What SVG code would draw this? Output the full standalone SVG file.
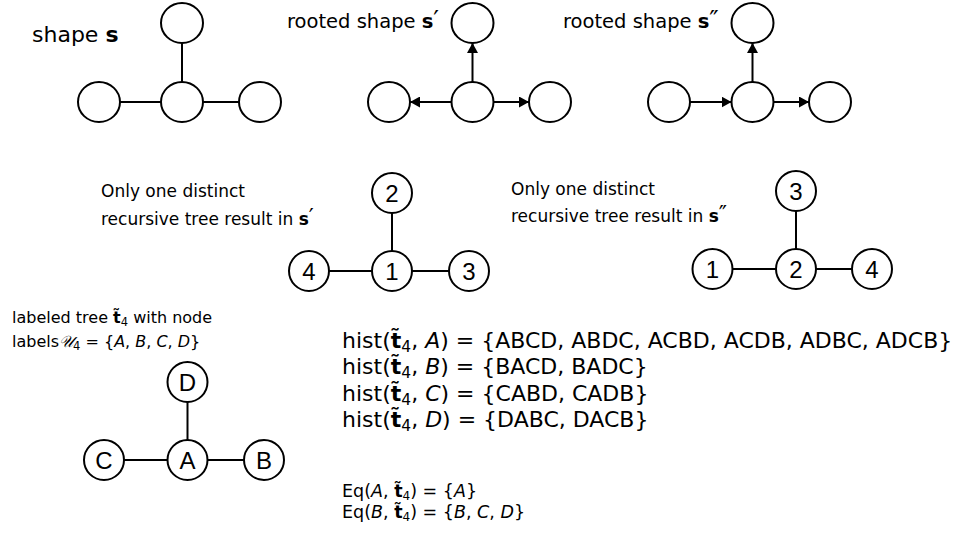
<svg xmlns="http://www.w3.org/2000/svg" width="955" height="534" viewBox="0 0 955 534">
<style>
.n{fill:#fff;stroke:#000;stroke-width:2}
.e{stroke:#000;stroke-width:2;fill:none}
.a{stroke:#000;stroke-width:2;fill:none;marker-end:url(#ah)}
.lbl{font-family:"Liberation Sans",Arial,sans-serif;font-size:24px;text-anchor:middle;fill:#000}
.hd{font-family:"DejaVu Sans",Verdana,sans-serif;fill:#000}
.b{font-weight:bold}
.i{font-style:italic}
.p{font-size:130%}
</style>
<defs>
<marker id="ah" markerUnits="userSpaceOnUse" markerWidth="11" markerHeight="11" refX="10" refY="5.5" orient="auto">
<path d="M0,0 L10,5.5 L0,11 z" fill="#000"/>
</marker>
</defs>

<!-- texts -->
<text class="hd" x="32" y="42" font-size="22">shape <tspan class="b">s</tspan></text>
<text class="hd" x="287" y="28" font-size="19.5">rooted shape <tspan class="b">s</tspan><tspan class="p">′</tspan></text>
<text class="hd" x="563" y="28" font-size="19.5">rooted shape <tspan class="b">s</tspan><tspan class="p">″</tspan></text>

<text class="hd" x="101" y="197" font-size="17">Only one distinct</text>
<text class="hd" x="101" y="225" font-size="17">recursive tree result in <tspan class="b">s</tspan><tspan class="p">′</tspan></text>
<text class="hd" x="511" y="195" font-size="17">Only one distinct</text>
<text class="hd" x="511" y="222" font-size="17">recursive tree result in <tspan class="b">s</tspan><tspan class="p">″</tspan></text>

<text class="hd" x="12" y="323" font-size="16">labeled tree <tspan class="b">t̃</tspan><tspan font-size="11.5" dy="3">4</tspan><tspan dy="-3"> with node</tspan></text>
<text class="hd" x="12" y="347" font-size="16">labels<tspan class="i">𝒰</tspan><tspan font-size="11.5" dy="3">4</tspan><tspan dy="-3"> = {</tspan><tspan class="i">A</tspan>, <tspan class="i">B</tspan>, <tspan class="i">C</tspan>, <tspan class="i">D</tspan>}</text>

<g id="hist" class="hd" font-size="22">
<text x="342" y="348">hist(<tspan class="b">t̃</tspan><tspan font-size="15.5" dy="4">4</tspan><tspan dy="-4">, </tspan><tspan class="i">A</tspan>) = {ABCD, ABDC, ACBD, ACDB, ADBC, ADCB}</text>
<text x="342" y="374">hist(<tspan class="b">t̃</tspan><tspan font-size="15.5" dy="4">4</tspan><tspan dy="-4">, </tspan><tspan class="i">B</tspan>) = {BACD, BADC}</text>
<text x="342" y="401">hist(<tspan class="b">t̃</tspan><tspan font-size="15.5" dy="4">4</tspan><tspan dy="-4">, </tspan><tspan class="i">C</tspan>) = {CABD, CADB}</text>
<text x="342" y="427">hist(<tspan class="b">t̃</tspan><tspan font-size="15.5" dy="4">4</tspan><tspan dy="-4">, </tspan><tspan class="i">D</tspan>) = {DABC, DACB}</text>
</g>
<g id="eq" class="hd" font-size="17.5">
<text x="342" y="497">Eq(<tspan class="i">A</tspan>, <tspan class="b">t̃</tspan><tspan font-size="12" dy="3">4</tspan><tspan dy="-3">) = {</tspan><tspan class="i">A</tspan>}</text>
<text x="342" y="518">Eq(<tspan class="i">B</tspan>, <tspan class="b">t̃</tspan><tspan font-size="12" dy="3">4</tspan><tspan dy="-3">) = {</tspan><tspan class="i">B</tspan>, <tspan class="i">C</tspan>, <tspan class="i">D</tspan>}</text>
</g>

<!-- connectors -->
<g id="connectors">
<line class="e" x1="182" y1="43" x2="182" y2="82"/>
<line class="e" x1="120" y1="102" x2="161" y2="102"/>
<line class="e" x1="203" y1="102" x2="239" y2="102"/>

<line class="a" x1="472.5" y1="82" x2="472.5" y2="43"/>
<line class="a" x1="451.5" y1="102" x2="410" y2="102"/>
<line class="a" x1="493.5" y1="102" x2="529" y2="102"/>

<line class="a" x1="752.5" y1="82" x2="752.5" y2="43"/>
<line class="a" x1="690" y1="102" x2="731.5" y2="102"/>
<line class="a" x1="773.5" y1="102" x2="809" y2="102"/>

<line class="e" x1="392" y1="213" x2="392" y2="251"/>
<line class="e" x1="329" y1="271" x2="372" y2="271"/>
<line class="e" x1="412" y1="271" x2="449" y2="271"/>

<line class="e" x1="796" y1="211" x2="796" y2="249"/>
<line class="e" x1="732.5" y1="269" x2="776" y2="269"/>
<line class="e" x1="816" y1="269" x2="852" y2="269"/>

<line class="e" x1="187.5" y1="402" x2="187.5" y2="440"/>
<line class="e" x1="124" y1="460" x2="167.5" y2="460"/>
<line class="e" x1="207.5" y1="460" x2="244" y2="460"/>
</g>

<!-- shape s -->
<g id="s_top"><ellipse class="n" cx="182" cy="23" rx="21" ry="20"/></g>
<g id="s_left"><ellipse class="n" cx="99" cy="102" rx="21" ry="20"/></g>
<g id="s_mid"><ellipse class="n" cx="182" cy="102" rx="21" ry="20"/></g>
<g id="s_right"><ellipse class="n" cx="260" cy="102" rx="21" ry="20"/></g>

<g id="s1_top"><ellipse class="n" cx="472.5" cy="23" rx="21" ry="20"/></g>
<g id="s1_left"><ellipse class="n" cx="389" cy="102" rx="21" ry="20"/></g>
<g id="s1_mid"><ellipse class="n" cx="472.5" cy="102" rx="21" ry="20"/></g>
<g id="s1_right"><ellipse class="n" cx="550" cy="102" rx="21" ry="20"/></g>

<g id="s2_top"><ellipse class="n" cx="752.5" cy="23" rx="21" ry="20"/></g>
<g id="s2_left"><ellipse class="n" cx="669" cy="102" rx="21" ry="20"/></g>
<g id="s2_mid"><ellipse class="n" cx="752.5" cy="102" rx="21" ry="20"/></g>
<g id="s2_right"><ellipse class="n" cx="830" cy="102" rx="21" ry="20"/></g>

<!-- recursive tree s' -->
<g id="r1_2"><circle class="n" cx="392" cy="193" r="20"/><text class="lbl" x="392" y="202">2</text></g>
<g id="r1_4"><circle class="n" cx="309" cy="271" r="20"/><text class="lbl" x="309" y="280">4</text></g>
<g id="r1_1"><circle class="n" cx="392" cy="271" r="20"/><text class="lbl" x="392" y="280">1</text></g>
<g id="r1_3"><circle class="n" cx="469" cy="271" r="20"/><text class="lbl" x="469" y="280">3</text></g>

<!-- recursive tree s'' -->
<g id="r2_3"><circle class="n" cx="796" cy="191" r="20"/><text class="lbl" x="796" y="200">3</text></g>
<g id="r2_1"><circle class="n" cx="712.5" cy="269" r="20"/><text class="lbl" x="712.5" y="278">1</text></g>
<g id="r2_2"><circle class="n" cx="796" cy="269" r="20"/><text class="lbl" x="796" y="278">2</text></g>
<g id="r2_4"><circle class="n" cx="872" cy="269" r="20"/><text class="lbl" x="872" y="278">4</text></g>

<!-- labeled tree -->
<g id="lt_D"><circle class="n" cx="187.5" cy="382" r="20"/><text class="lbl" x="187.5" y="391">D</text></g>
<g id="lt_C"><circle class="n" cx="104" cy="460" r="20"/><text class="lbl" x="104" y="469">C</text></g>
<g id="lt_A"><circle class="n" cx="187.5" cy="460" r="20"/><text class="lbl" x="187.5" y="469">A</text></g>
<g id="lt_B"><circle class="n" cx="264" cy="460" r="20"/><text class="lbl" x="264" y="469">B</text></g>
</svg>
